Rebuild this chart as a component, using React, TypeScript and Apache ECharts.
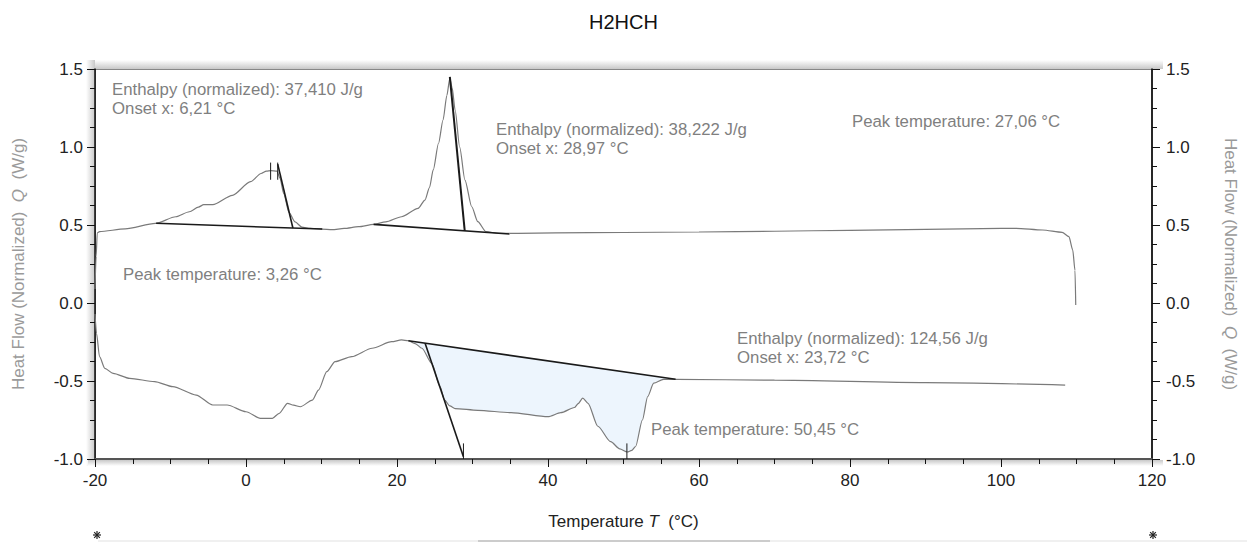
import React, { useEffect, useRef } from "react";
import * as echarts from "echarts";

// DSC trace, upper branch (exothermic peaks up)
const upperCurve: number[][] = [
  [-20, 0.09], [-19.85, 0.3], [-19.7, 0.45], [-19.4, 0.458], [-16, 0.475], [-12, 0.51],
  [-9.3, 0.553], [-7.5, 0.585], [-6.3, 0.615], [-5.6, 0.63], [-4.4, 0.63], [-1.8, 0.69],
  [0.6, 0.778], [2.0, 0.83], [2.7, 0.845], [3.3, 0.848], [4.1, 0.845], [4.5, 0.8],
  [5.0, 0.7], [5.7, 0.58], [6.5, 0.52], [7.4, 0.487], [8.5, 0.478], [10, 0.474],
  [11.4, 0.47], [13, 0.478], [14.9, 0.489], [16.9, 0.504], [18.5, 0.52], [20.6, 0.553],
  [22.8, 0.607], [23.7, 0.66], [24.3, 0.74], [24.8, 0.853], [25.5, 1.024], [26.1, 1.173],
  [26.6, 1.33], [27.0, 1.44], [27.3, 1.38], [27.7, 1.237], [28.3, 1.0], [29.0, 0.788],
  [29.9, 0.617], [30.7, 0.521], [31.8, 0.457], [33.4, 0.447], [36, 0.446], [41, 0.449],
  [50, 0.452], [60, 0.455], [70, 0.46], [80, 0.466], [90, 0.472], [100, 0.478],
  [102, 0.479], [105.5, 0.468], [108.1, 0.453], [109, 0.425], [109.5, 0.34], [109.8, 0.21],
  [109.9, -0.013],
];

// DSC trace, lower branch (endothermic peaks down)
const lowerCurve: number[][] = [
  [-20, -0.07], [-19.8, -0.194], [-19.4, -0.344], [-18.7, -0.419], [-17.6, -0.451],
  [-15.4, -0.483], [-12.1, -0.504], [-9.7, -0.536], [-6.6, -0.59], [-4.4, -0.654],
  [-2.5, -0.654], [0, -0.697], [1.9, -0.739], [3.5, -0.739], [4.4, -0.707], [5.5, -0.643],
  [6.3, -0.655], [7.2, -0.665], [8.8, -0.622], [9.6, -0.558], [10.7, -0.44], [11.8, -0.376],
  [14, -0.344], [16.7, -0.29], [19.3, -0.248], [20.6, -0.237], [21.5, -0.242], [22.4, -0.26],
  [23.3, -0.29], [24.6, -0.387], [25.7, -0.536], [26.3, -0.622], [27.0, -0.66], [27.7, -0.677],
  [30.7, -0.688], [35.1, -0.703], [40, -0.729], [41.7, -0.703], [43.5, -0.67], [44.0, -0.645],
  [44.6, -0.61], [45.3, -0.643], [46.6, -0.79], [48.3, -0.889], [49.5, -0.935], [50.5, -0.955],
  [51.1, -0.945], [51.6, -0.92], [52.5, -0.75], [53.2, -0.6], [54, -0.514], [55.3, -0.489],
  [56.9, -0.489], [70, -0.495], [90, -0.51], [108.5, -0.526],
];

// Evaluation constructions: baselines, onset tangents and peak markers
const peak1Baseline = [[-11.9, 0.511], [10.1, 0.474]];
const peak1Tangent = [[4.2, 0.89], [6.21, 0.4805]];
const peak1Markers = [
  [[3.26, 0.79], [3.26, 0.9]],
  [[4.2, 0.79], [4.2, 0.9]],
];
const peak2Baseline = [[16.9, 0.504], [34.9, 0.442]];
const peak2Tangent = [[27.0, 1.45], [28.97, 0.462]];
const peak3Baseline = [[21.5, -0.242], [56.9, -0.489]];
const peak3Tangent = [[23.72, -0.2575], [28.8, -0.985]];
const peak3Markers = [
  [[28.8, -0.9], [28.8, -1.0]],
  [[50.45, -0.9], [50.45, -1.0]],
];

// Integration area of the endothermic peak
const peak3Area = lowerCurve.filter(
  (p) => p[0] >= peak3Baseline[0][0] && p[0] <= peak3Baseline[1][0]
);

const annotations = [
  { text: "Enthalpy (normalized): 37,410 J/g", x: 112, y: 89 },
  { text: "Onset x: 6,21 °C", x: 112, y: 108 },
  { text: "Peak temperature: 3,26 °C", x: 123, y: 274 },
  { text: "Enthalpy (normalized): 38,222 J/g", x: 496, y: 129 },
  { text: "Onset x: 28,97 °C", x: 496, y: 148 },
  { text: "Peak temperature: 27,06 °C", x: 852, y: 121 },
  { text: "Enthalpy (normalized): 124,56 J/g", x: 737, y: 338 },
  { text: "Onset x: 23,72 °C", x: 737, y: 357 },
  { text: "Peak temperature: 50,45 °C", x: 651, y: 429 },
];

const FONT = "'Liberation Sans', Arial, sans-serif";
const CURVE = "#7a7a7a";
const EVAL = "#1a1a1a";
const LABEL_SIZE = 17;

const evalLine = (data: number[][], width = 1.6) => ({
  type: "line",
  data,
  showSymbol: false,
  silent: true,
  lineStyle: { color: EVAL, width },
  z: 4,
});

const curveLine = (data: number[][]) => ({
  type: "line",
  data,
  showSymbol: false,
  silent: true,
  smooth: 0.25,
  smoothMonotone: "x",
  lineStyle: { color: CURVE, width: 1.2 },
  z: 3,
});

const yAxisBase = {
  type: "value",
  min: -1,
  max: 1.5,
  interval: 0.5,
  axisLine: { show: true, onZero: false, lineStyle: { color: "#111", width: 1.5 } },
  axisTick: { show: true, inside: false, length: 8, lineStyle: { color: "#111" } },
  minorTick: { show: true, splitNumber: 4, length: 5, lineStyle: { color: "#111" } },
  splitLine: { show: false },
  nameLocation: "middle",
  nameTextStyle: {
    color: "#9a9a9a",
    fontSize: LABEL_SIZE,
    fontFamily: FONT,
    rich: { i: { fontStyle: "italic", color: "#9a9a9a", fontSize: LABEL_SIZE, fontFamily: FONT } },
  },
};

export default function App() {
  const ref = useRef<HTMLDivElement>(null);

  useEffect(() => {
    if (!ref.current) return;
    const chart = echarts.init(ref.current, undefined, { renderer: "svg" });

    // soft bevel around the plot frame
    const shade = (x: number, y: number, w: number, h: number, horizontal: boolean, flip: boolean) => ({
      type: "rect",
      shape: { x, y, width: w, height: h },
      silent: true,
      z: 0,
      style: {
        fill: {
          type: "linear",
          x: 0,
          y: 0,
          x2: horizontal ? 1 : 0,
          y2: horizontal ? 0 : 1,
          colorStops: flip
            ? [{ offset: 0, color: "#c8c8c8" }, { offset: 1, color: "#ffffff" }]
            : [{ offset: 0, color: "#ffffff" }, { offset: 1, color: "#c8c8c8" }],
        },
      },
    });

    // small star-shaped range handle below the axis ends
    const star = (cx: number, cy: number) => ({
      type: "group",
      silent: true,
      children: [0, 45, 90, 135].map((deg) => {
        const r = 4;
        const a = (deg * Math.PI) / 180;
        return {
          type: "line",
          shape: {
            x1: cx - r * Math.cos(a),
            y1: cy - r * Math.sin(a),
            x2: cx + r * Math.cos(a),
            y2: cy + r * Math.sin(a),
          },
          style: { stroke: "#222", lineWidth: 1.2 },
        };
      }),
    });

    chart.setOption({
      animation: false,
      backgroundColor: "#ffffff",
      title: {
        text: "H2HCH",
        left: "center",
        top: 7,
        textStyle: { fontSize: 20, fontWeight: "normal", color: "#111", fontFamily: FONT },
      },
      grid: {
        left: 95,
        right: 91,
        top: 69,
        bottom: 83,
        show: true,
        borderColor: "#111",
        borderWidth: 1.2,
        backgroundColor: "transparent",
      },
      xAxis: {
        type: "value",
        min: -20,
        max: 120,
        interval: 20,
        name: "Temperature {i|T}  (°C)",
        nameLocation: "middle",
        nameGap: 54,
        nameTextStyle: {
          color: "#222",
          fontSize: LABEL_SIZE,
          fontFamily: FONT,
          rich: { i: { fontStyle: "italic", color: "#222", fontSize: LABEL_SIZE, fontFamily: FONT } },
        },
        axisLine: { show: true, onZero: false, lineStyle: { color: "#555", width: 2 } },
        axisTick: { show: true, inside: false, length: 8, lineStyle: { color: "#111" } },
        minorTick: { show: true, splitNumber: 4, length: 5, lineStyle: { color: "#111" } },
        splitLine: { show: false },
        axisLabel: { color: "#222", fontSize: LABEL_SIZE, fontFamily: FONT, margin: 13 },
      },
      yAxis: [
        {
          ...yAxisBase,
          position: "left",
          name: "Heat Flow (Normalized)  {i|Q}  (W/g)",
          nameGap: 68,
          axisLabel: {
            color: "#222",
            fontSize: LABEL_SIZE,
            fontFamily: FONT,
            margin: 12,
            formatter: (v: number) => v.toFixed(1),
          },
        },
        {
          ...yAxisBase,
          position: "right",
          name: "Heat Flow (Normalized)  {i|Q}  (W/g)",
          nameGap: 70,
          nameRotate: -90,
          axisLabel: {
            color: "#222",
            fontSize: LABEL_SIZE,
            fontFamily: FONT,
            margin: 14,
            formatter: (v: number) => v.toFixed(1),
          },
        },
      ],
      series: [
        {
          type: "custom",
          silent: true,
          z: 1,
          data: [peak3Baseline[0]],
          renderItem: (_params: any, api: any) => ({
            type: "polygon",
            shape: { points: peak3Area.map((p) => api.coord(p)), smooth: 0.25 },
            style: { fill: "#edf5fd", stroke: "none" },
          }),
        },
        curveLine(upperCurve),
        curveLine(lowerCurve),
        evalLine(peak1Baseline),
        evalLine(peak1Tangent),
        ...peak1Markers.map((m) => evalLine(m, 1)),
        evalLine(peak2Baseline),
        evalLine(peak2Tangent, 2),
        evalLine(peak3Baseline),
        evalLine(peak3Tangent),
        ...peak3Markers.map((m) => evalLine(m, 1)),
      ],
      graphic: [
        shade(88, 60, 1075, 9, false, false),
        shade(86, 60, 9, 406, true, false),
        shade(88, 460, 1075, 6, false, true),
        ...annotations.map((a) => ({
          type: "text",
          x: a.x,
          y: a.y,
          silent: true,
          z: 20,
          style: {
            text: a.text,
            fill: "#7f7f7f",
            fontSize: 16.8,
            fontFamily: FONT,
            align: "left",
            verticalAlign: "middle",
          },
        })),
        star(97, 535),
        star(1153, 535),
        {
          type: "rect",
          silent: true,
          shape: { x: 98, y: 540, width: 1149, height: 2 },
          style: { fill: "#f0f0f0" },
        },
        {
          type: "rect",
          silent: true,
          shape: { x: 478, y: 540, width: 292, height: 2 },
          style: { fill: "#cccccc" },
        },
      ],
    });

    return () => chart.dispose();
  }, []);

  return (
    <div
      ref={ref}
      style={{ position: "fixed", left: 0, top: 0, width: 1247, height: 542, background: "#fff" }}
    />
  );
}
